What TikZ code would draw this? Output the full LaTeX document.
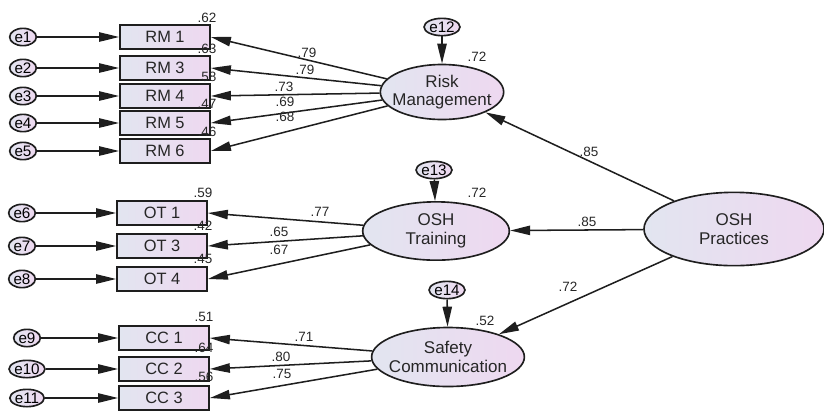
\documentclass[tikz,border=0pt]{standalone}
\usepackage{fontspec}
\setmainfont{Liberation Sans}
\usetikzlibrary{positioning, arrows.meta, shapes.geometric}

\definecolor{fillL}{RGB}{226,229,240}
\definecolor{fillR}{RGB}{238,216,240}
\definecolor{lineC}{RGB}{30,30,30}

\begin{document}
\begin{tikzpicture}[
    x=0.03cm, y=-0.03cm,
    % Style for the observed indicators (boxes)
    obs/.style = {draw=lineC, line width=1.5pt, rectangle, minimum width=2.7cm, minimum height=0.7cm,
                  left color=fillL, right color=fillR, text=black!85, font=\fontsize{14}{16}\selectfont},
    % Style for the latent factors (big ellipses)
    lat/.style = {draw=lineC, line width=1.4pt, ellipse, inner sep=0pt, align=center,
                  left color=fillL, right color=fillR, text=black!85, font=\fontsize{14.5}{16}\selectfont},
    % Style for the error terms
    err/.style = {draw=lineC, line width=1.4pt, ellipse, inner sep=0pt, minimum width=0.8cm,
                  minimum height=0.52cm, left color=fillL, right color=fillR, font=\fontsize{13}{14}\selectfont},
    % Style for the estimates
    num/.style = {inner sep=0pt, text=black!85, font=\fontsize{11.5}{12}\selectfont},
    % Style for the arrows
    arr/.style = {-{Triangle[length=0.6cm,width=0.28cm]}, line width=1.3pt, draw=lineC}
]
    \useasboundingbox (0,0) rectangle (824,410);

    % --- LATENT FACTORS ---
    \node[lat, inner xsep=-0.2cm, minimum width=3.7cm, minimum height=1.65cm] (RM) at (442,92) {Risk\\Management};
    \node[lat, minimum width=4.4cm, minimum height=1.75cm] (OT) at (436,231) {OSH\\Training};
    \node[lat, inner xsep=-0.15cm, minimum width=4.1cm, minimum height=1.77cm] (SC) at (448,357) {Safety\\Communication};
    \node[lat, minimum width=5.4cm, minimum height=2.2cm] (OSH) at (734,229) {OSH\\Practices};

    % --- DISTURBANCES ---
    \node[err] (e12) at (442,27) {e12};
    \node[err] (e13) at (434,170) {e13};
    \node[err] (e14) at (447,290) {e14};
    \draw[arr] (e12) -- (RM);
    \draw[arr] (e13) -- (OT);
    \draw[arr] (e14) -- (SC);

    \node[num] (r12) at (477,57) {.72};
    \node[num] (r13) at (477,193) {.72};
    \node[num] (r14) at (485,321) {.52};

    % --- RISK MANAGEMENT ITEMS ---
    \foreach \n/\lab/\y/\r/\w/\px/\py in {1/RM 1/37/.62/.79/307/53, 2/RM 3/68/.63/.79/305/70,
                                         3/RM 4/96/.58/.73/284/87, 4/RM 5/123/.47/.69/285/102,
                                         5/RM 6/151/.46/.68/285/117} {
        \node[obs] (rm\n) at (165,\y) {\lab};
        \node[err] (e\n) at (23,\y) {e\n};
        \node[num] (rr\n) at (207,\y-19) {\r};
        \node[num] (wr\n) at (\px,\py) {\w};
        \draw[arr] (e\n) -- (rm\n);
        \draw[arr] (RM) -- (rm\n.east);
    }

    % --- OSH TRAINING ITEMS ---
    \foreach \n/\lab/\y/\r/\w/\px/\py in {6/OT 1/213/.59/.77/320/212, 7/OT 3/246/.42/.65/279/232,
                                         8/OT 4/279/.45/.67/279/250} {
        \node[obs] (ot\n) at (162,\y) {\lab};
        \node[err] (e\n) at (22,\y) {e\n};
        \node[num] (rr\n) at (203,\y-20) {\r};
        \node[num] (wr\n) at (\px,\py) {\w};
        \draw[arr] (e\n) -- (ot\n);
        \draw[arr] (OT) -- (ot\n.east);
    }

    % --- SAFETY COMMUNICATION ITEMS ---
    \foreach \n/\lab/\y/\r/\w/\px/\py in {9/CC 1/338/.51/.71/304/337, 10/CC 2/369/.64/.80/281/357,
                                         11/CC 3/398/.56/.75/282/374} {
        \node[obs] (cc\n) at (164,\y) {\lab};
        \node[err] (e\n) at (27,\y) {e\n};
        \node[num] (rr\n) at (204,\y-21) {\r};
        \node[num] (wr\n) at (\px,\py) {\w};
        \draw[arr] (e\n) -- (cc\n);
        \draw[arr] (SC) -- (cc\n.east);
    }

    % --- STRUCTURAL PATHS ---
    \draw[arr] (OSH) -- (RM);
    \draw[arr] (OSH) -- (OT);
    \draw[arr] (OSH) -- (SC);
    \node[num] (b1) at (589,152) {.85};
    \node[num] (b2) at (587,222) {.85};
    \node[num] (b3) at (568,287) {.72};

\end{tikzpicture}
\end{document}
